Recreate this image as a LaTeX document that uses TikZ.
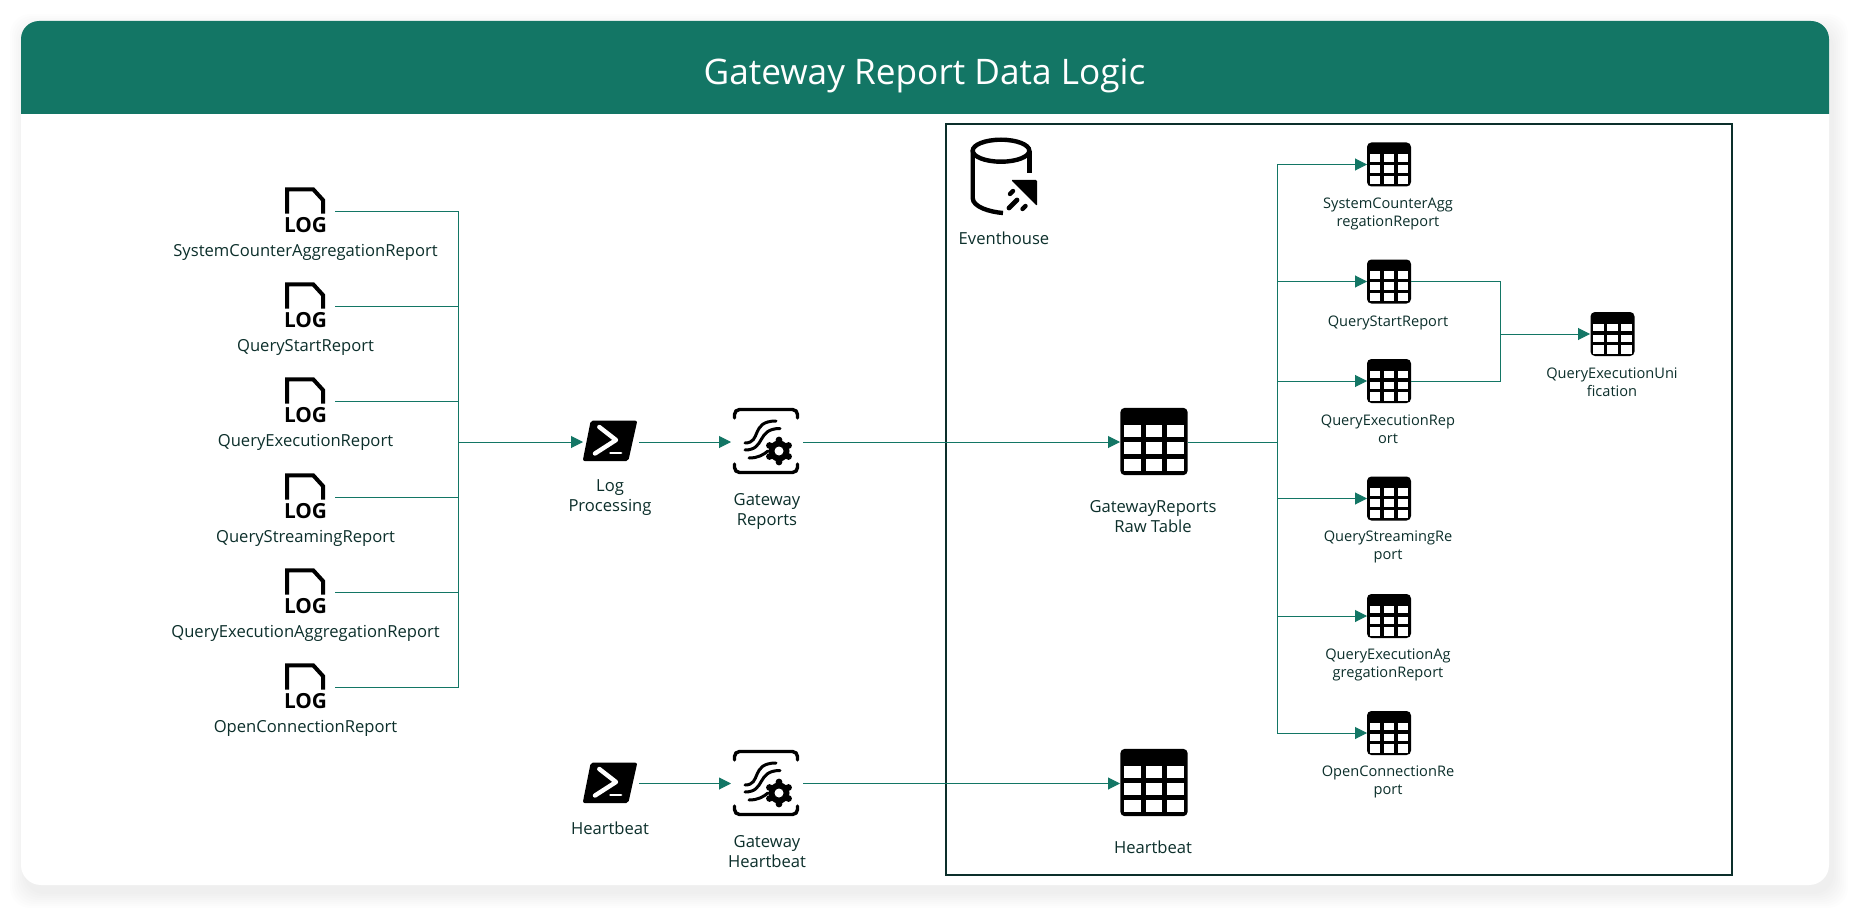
\documentclass[tikz,border=0pt]{standalone}
\usepackage{fontspec}
\setmainfont{Open Sans}
\usepackage{tikz}
\usetikzlibrary{arrows.meta,calc}
\usepackage{xcolor}
\definecolor{gwteal}{HTML}{137665}
\definecolor{gwink}{HTML}{0C2F2B}

\tikzset{
  flow/.style={draw=gwteal, line width=0.5pt},
  flowarrow/.style={flow, -{Triangle[length=6pt,width=6pt]}},
  iconspot/.style={inner sep=0pt, outer sep=0pt, minimum width=#1, minimum height=22pt},
  biglabel/.style={font=\fontsize{8.3}{10}\selectfont, text=gwink, align=center, inner sep=0pt},
  smalllabel/.style={font=\fontsize{7.3}{8.9}\selectfont, text=gwink, align=center, inner sep=0pt},
  pics/logicon/.style={code={
    \draw[line width=2pt, black, miter limit=4] (-18.3,2.7) -- (-18.3,-21.7) -- (7.7,-21.7) -- (17.7,-10.7) -- (17.7,2.7);
    \node[inner sep=0pt, font=\fontsize{10.4}{10.4}\selectfont\bfseries] (-word) at (0,14.5) {LOG};
  }},
  pics/psicon/.style={code={
    \fill[black, rounded corners=1pt] (-19.3,-20.3) -- (27.3,-20.3) -- (18.3,20) -- (-27.3,20) -- cycle;
    \draw[white, line width=2.2pt, line cap=round, line join=round] (-10.7,-14) -- (6,-1) -- (-15,12.5);
    \draw[white, line width=1.4pt, line cap=round] (0.5,12) -- (11,12);
  }},
  pics/gwicon/.style={code={
    \draw[black, line width=1.7pt, rounded corners=2.5pt, line cap=round] (-31.5,-23) -- (-31.5,-31.5) -- (31.5,-31.5) -- (31.5,-23);
    \draw[black, line width=1.7pt, rounded corners=2.5pt, line cap=round] (-31.5,23) -- (-31.5,31.5) -- (31.5,31.5) -- (31.5,23);
    \draw[black, line width=1.5pt, line cap=round] (-21,2) .. controls (-4,2) and (-16,-20) .. (10,-20);
    \draw[black, line width=1.5pt, line cap=round] (-21,9) .. controls (0,9) and (-10,-12.5) .. (14,-12.5);
    \draw[black, line width=1.5pt, line cap=round] (-17,17) .. controls (-8,17) and (-3,14) .. (2,10);
    \fill[black] (13,10) circle (10.5);
    \foreach \ang in {30,90,150,210,270,330} {
      \fill[black] ($(13,10)+(\ang:11)$) circle (3.4);
    }
    \fill[white] (13,10) circle (4.5);
  }},
  pics/gridicon/.style={code={
    \fill[black, rounded corners=2.2pt] (-22,-22) rectangle (22,22);
    \foreach \xa/\xb in {-19.3/-8.7,-5.3/5.3,8.7/19.3} {
      \foreach \ya/\yb in {-10.5/-2.8,0.5/8.2,11.2/19.5} {
        \fill[white] (\xa,\ya) rectangle (\xb,\yb);
      }
    }
  }},
}

\begin{document}
\begin{tikzpicture}[x=0.5pt, y=-0.5pt, >=stealth]
  \useasboundingbox (0,0) rectangle (1859,915);

  % Card with its soft shadow
  \foreach \gr in {1,3,...,15} {
    \fill[black, opacity=0.008, rounded corners=10pt] ($(21,21)+(4-\gr,8-\gr)$) rectangle ($(1829,885)+(4+\gr,8+\gr)$);
  }
  \fill[white, rounded corners=10pt] (21,21) rectangle (1829,885);
  \fill[gwteal, rounded corners=9pt] (21,114) -- (21,21) -- (1829,21) -- (1829,114);
  \node[font=\fontsize{17.6}{17.6}\selectfont, text=white, inner sep=0pt] (title) at (924.5,75.5) {Gateway Report Data Logic};

  % Eventhouse frame
  \draw[draw=gwink, line width=1pt] (946,124) rectangle (1732,875);
  \draw[black, line width=2.2pt] (1001,150.7) ellipse (28.3 and 11);
  \draw[black, line width=2.2pt] (1029.3,150.7) -- (1029.3,173);
  \draw[black, line width=2.2pt] (972.7,150.7) -- (972.7,198) .. controls (972.7,207) and (990,212) .. (1003,213);
  \fill[black, rounded corners=0.6pt] (1011,180) -- (1037,180) -- (1037,206) -- cycle;
  \draw[black, line width=2.4pt, line cap=round] (1009,208) -- (1017,200);
  \draw[black, line width=2.2pt, line cap=round] (1010,194) -- (1013,191);
  \draw[black, line width=2.2pt, line cap=round] (1022.5,209) -- (1025.5,206);
  \node[biglabel] (lbl_event) at (1004,238) {Eventhouse};

  % Log files on the left
  \foreach \nm/\yy/\txt in {sys/211/SystemCounterAggregationReport, qs/306/QueryStartReport, qe/401/QueryExecutionReport, qst/497/QueryStreamingReport, qag/592/QueryExecutionAggregationReport, oc/687/OpenConnectionReport} {
    \node[iconspot=29.5pt] (log_\nm) at (305.5,\yy) {};
    \pic (logicon_\nm) at (305.5,\yy) {logicon};
    \node[biglabel] (lbl_log_\nm) at (305.5,\yy+41.5) {\txt};
  }

  % Log processing row
  \node[iconspot=28pt] (ps_log) at (611,442) {};
  \pic at (610,441) {psicon};
  \node[biglabel] (lbl_ps_log) at (610,498) {Log\\Processing};
  \node[iconspot=36pt] (gw_rep) at (767,442) {};
  \pic at (766,441) {gwicon};
  \node[biglabel] (lbl_gw_rep) at (767,511.5) {Gateway\\Reports};
  \node[iconspot=34pt] (tbl_raw) at (1154,442) {};
  \pic[scale=1.53] at (1154,441.5) {gridicon};
  \node[biglabel] (lbl_raw) at (1153,517) {GatewayReports\\Raw Table};

  % Heartbeat row
  \node[iconspot=28pt] (ps_hb) at (611,783.5) {};
  \pic at (610,783) {psicon};
  \node[biglabel] (lbl_ps_hb) at (610,828) {Heartbeat};
  \node[iconspot=36pt] (gw_hb) at (767,783.5) {};
  \pic at (766,783) {gwicon};
  \node[biglabel] (lbl_gw_hb) at (767,852) {Gateway\\Heartbeat};
  \node[iconspot=34pt] (tbl_hb) at (1154,783.5) {};
  \pic[scale=1.53] at (1154,782.5) {gridicon};
  \node[biglabel] (lbl_tbl_hb) at (1153,847) {Heartbeat};

  % Report tables
  \foreach \nm/\yy/\ly/\txt in {sys/164.5/214/SystemCounterAgg\\regationReport, qs/281.5/323/QueryStartReport, qe/381/429.2/QueryExecutionRep\\ort, qst/498.5/547.2/QueryStreamingRe\\port, qag/616/665.2/QueryExecutionAg\\gregationReport, oc/733/782.2/OpenConnectionRe\\port} {
    \node[iconspot=22pt] (tbl_\nm) at (1389,\yy) {};
    \pic at (1389,\yy) {gridicon};
    \node[smalllabel] (lbl_tbl_\nm) at (1388,\ly) {\txt};
  }
  \node[iconspot=22.5pt] (tbl_uni) at (1612.5,334) {};
  \pic at (1612.5,334) {gridicon};
  \node[smalllabel] (lbl_uni) at (1612,382) {QueryExecutionUni\\fication};

  % Connectors
  \coordinate (bus_l) at (458.5,442);
  \coordinate (bus_r) at (1277.5,442);
  \coordinate (merge) at (1500.5,334);
  \foreach \nm in {sys,qs,qe,qst,qag,oc} {
    \draw[flow] (log_\nm.east) -| (bus_l);
    \draw[flowarrow] (bus_r) |- (tbl_\nm.west);
  }
  \draw[flowarrow] (bus_l) -- (ps_log.west);
  \draw[flowarrow] (ps_log.east) -- (gw_rep.west);
  \draw[flowarrow] (gw_rep.east) -- (tbl_raw.west);
  \draw[flow] (tbl_raw.east) -- (bus_r);
  \draw[flowarrow] (ps_hb.east) -- (gw_hb.west);
  \draw[flowarrow] (gw_hb.east) -- (tbl_hb.west);
  \draw[flow] (tbl_qs.east) -| (merge);
  \draw[flow] (tbl_qe.east) -| (merge);
  \draw[flowarrow] (merge) -- (tbl_uni.west);
\end{tikzpicture}
\end{document}
